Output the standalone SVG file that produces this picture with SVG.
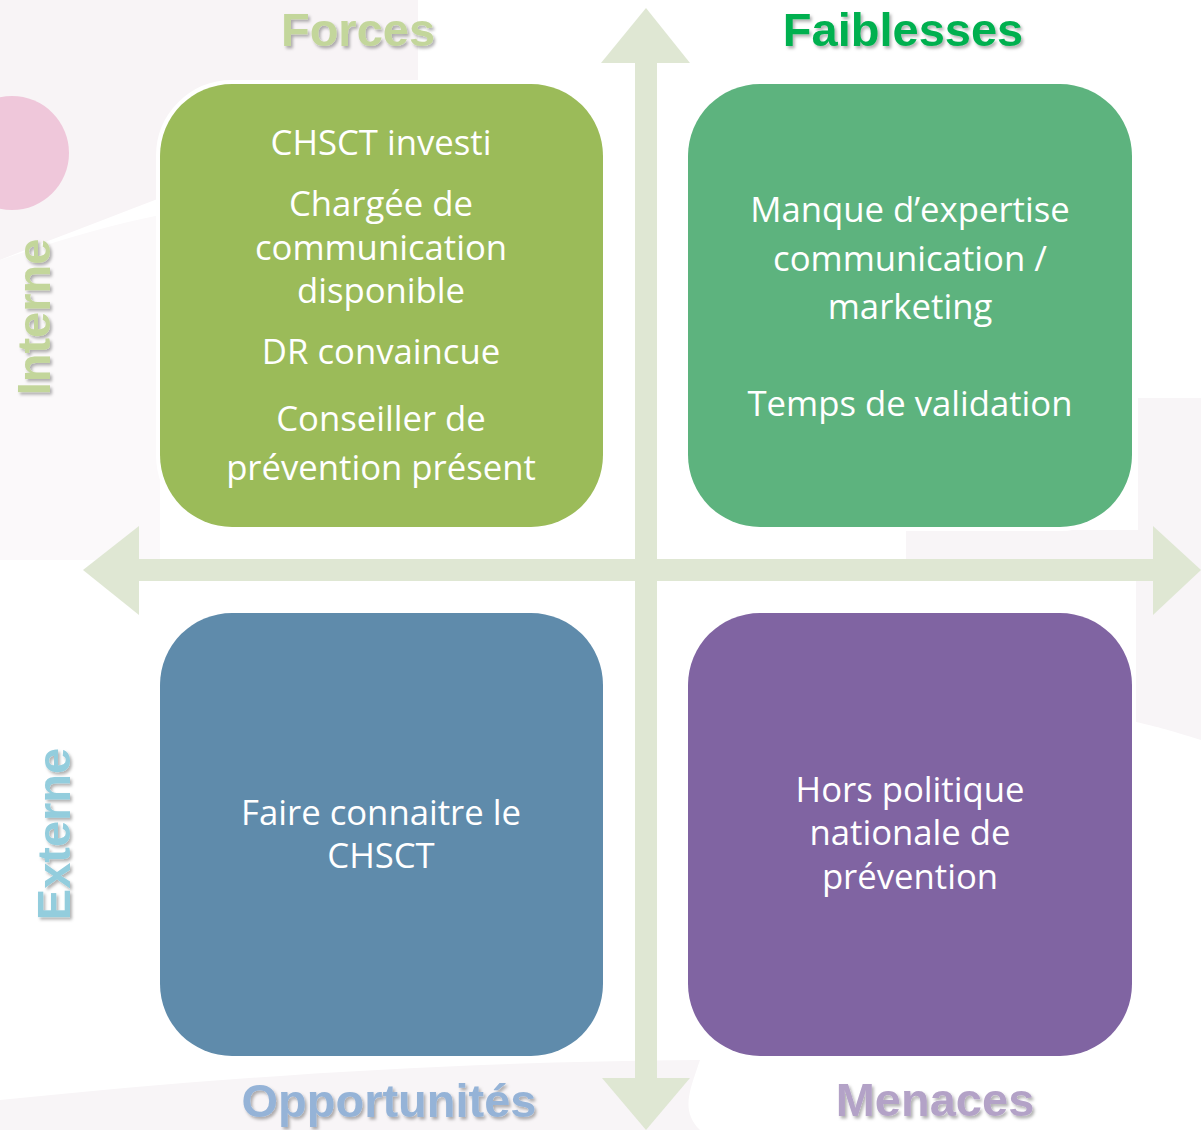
<svg xmlns="http://www.w3.org/2000/svg" width="1201" height="1130" viewBox="0 0 1201 1130">
<defs>
<style>
.box-text{font-family:"Open Sans","Liberation Sans",sans-serif;font-size:34.7px;fill:#ffffff;text-anchor:middle}
.hdr{font-family:"Liberation Sans",Arial,sans-serif;font-weight:bold;font-size:47px;text-anchor:middle}
.arrow{fill:#dfe7d3}
.box{stroke:#ffffff;stroke-width:8;paint-order:stroke}
</style>
<filter id="sh" x="-10%" y="-20%" width="130%" height="160%">
<feDropShadow dx="2" dy="2.5" stdDeviation="1.5" flood-color="#000000" flood-opacity="0.3"/>
</filter>
</defs>
<rect width="1201" height="1130" fill="#ffffff"/>
<g id="background">
<path d="M0 0 H418 V85 C300 150 150 200 0 260 Z" fill="#f8f4f6"/>
<path d="M0 260 C60 240 110 225 160 215 V560 H0 Z" fill="#fbf9fa"/>
<path d="M906 530 H1201 V740 C1170 730 1150 725 1136 722 V560 H906 Z" fill="#f8f5f7"/>
<path d="M1138 398 H1201 V530 H1138 Z" fill="#f8f5f7"/>
<path d="M0 1130 V1100 C200 1080 420 1062 700 1060 C690 1090 680 1110 700 1130 Z" fill="#f8f5f7"/>
<circle cx="12" cy="153" r="57" fill="#efc7da"/>
</g>
<g id="connectors">
<rect class="arrow" x="139" y="559" width="1014" height="22"/>
<polygon class="arrow" points="83,570 139,526 139,615"/>
<polygon class="arrow" points="1201,570 1153,526 1153,615"/>
<rect class="arrow" x="635" y="63" width="22" height="1015"/>
<polygon class="arrow" points="646,8 601,63 690,63"/>
<polygon class="arrow" points="646,1130 602,1078 690,1078"/>
</g>
<g id="forces">
<rect class="box" x="160" y="84" width="443" height="443" rx="72" fill="#9bbb59"/>
<text class="box-text" x="381" y="155">CHSCT investi</text>
<text class="box-text" x="381" y="216">Chargée de</text>
<text class="box-text" x="381" y="260">communication</text>
<text class="box-text" x="381" y="303">disponible</text>
<text class="box-text" x="381" y="364">DR convaincue</text>
<text class="box-text" x="381" y="431">Conseiller de</text>
<text class="box-text" x="381" y="480">prévention présent</text>
</g>
<g id="faiblesses">
<rect class="box" x="688" y="84" width="444" height="443" rx="72" fill="#5db37e"/>
<text class="box-text" x="910" y="222">Manque d’expertise</text>
<text class="box-text" x="910" y="271">communication /</text>
<text class="box-text" x="910" y="319">marketing</text>
<text class="box-text" x="910" y="416">Temps de validation</text>
</g>
<g id="opportunites">
<rect class="box" x="160" y="613" width="443" height="443" rx="72" fill="#5f8bab"/>
<text class="box-text" x="381" y="825">Faire connaitre le</text>
<text class="box-text" x="381" y="868">CHSCT</text>
</g>
<g id="menaces">
<rect class="box" x="688" y="613" width="444" height="443" rx="72" fill="#8064a2"/>
<text class="box-text" x="910" y="802">Hors politique</text>
<text class="box-text" x="910" y="845">nationale de</text>
<text class="box-text" x="910" y="889">prévention</text>
</g>
<g id="labels" filter="url(#sh)">
<text class="hdr" x="358" y="46" fill="#c3d69b">Forces</text>
<text class="hdr" x="903" y="46" fill="#00b050">Faiblesses</text>
<text class="hdr" x="389" y="1117" fill="#95b3d7">Opportunités</text>
<text class="hdr" x="935" y="1116" fill="#b3a2c7">Menaces</text>
<text class="hdr" transform="translate(50,317) rotate(-90)" fill="#c3d69b">Interne</text>
<text class="hdr" transform="translate(70,834) rotate(-90)" fill="#93cddd">Externe</text>
</g>
</svg>
